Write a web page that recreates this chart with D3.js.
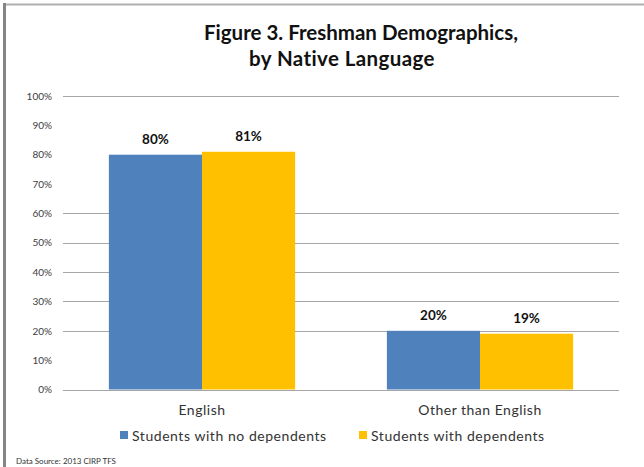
<!DOCTYPE html>
<html>
<head>
<meta charset="utf-8">
<script src="https://cdn.jsdelivr.net/npm/d3@7"></script>
<style>
  html, body { margin: 0; padding: 0; background: #fff; }
  svg { display: block; }
</style>
</head>
<body>
<svg id="chart" width="644" height="467"></svg>
<script>
// Chart data
const categories = ["English", "Other than English"];
const seriesNames = ["Students with no dependents", "Students with dependents"];
const noDependents = [80, 20];
const withDependents = [81, 19];
const tickValues = [0, 10, 20, 30, 40, 50, 60, 70, 80, 90, 100];
const tickLabels = ["0%", "10%", "20%", "30%", "40%", "50%", "60%", "70%", "80%", "90%", "100%"];
const gridValues = [0, 20, 30, 40, 50, 60, 100];
const colors = ["#4F81BD", "#FFC000"];

const seriesValues = [noDependents, withDependents];

const svg = d3.select("#chart");
const font = "Lato, 'Open Sans', sans-serif";

// Frame
svg.append("line").attr("x1", 3).attr("x2", 644).attr("y1", 4.5).attr("y2", 4.5)
  .attr("stroke", "#b0b0b0").attr("stroke-width", 2);
svg.append("line").attr("x1", 4.5).attr("x2", 4.5).attr("y1", 3).attr("y2", 467)
  .attr("stroke", "#858585").attr("stroke-width", 3);

// Title
const title = svg.append("text").attr("text-anchor", "middle")
  .attr("font-family", font).attr("font-weight", "bold").attr("font-size", 20.5).attr("fill", "#111");
title.append("tspan").attr("x", 361).attr("y", 40).text("Figure 3. Freshman Demographics,");
title.append("tspan").attr("x", 342).attr("y", 66).attr("letter-spacing", 0.4).text("by Native Language");

// Scales
const x = d3.scaleBand().domain(categories).range([63, 619]).paddingInner(0.33).paddingOuter(0.165);
const y = d3.scaleLinear().domain([0, 100]).range([389.5, 96]);
const xs = d3.scaleBand().domain(seriesNames).range([0, x.bandwidth()]);

// Gridlines
svg.append("g").selectAll("line").data(gridValues).join("line")
  .attr("x1", 63).attr("x2", 619)
  .attr("y1", d => Math.round(y(d)) + 0.5).attr("y2", d => Math.round(y(d)) + 0.5)
  .attr("stroke", "#a6a6a6").attr("stroke-width", 1.2);

// Y axis labels
const yAxis = d3.axisLeft(y).tickValues(tickValues)
  .tickFormat((d, i) => tickLabels[i]).tickSize(0).tickPadding(0);
const yg = svg.append("g").attr("transform", "translate(52,0)").call(yAxis);
yg.select(".domain").remove();
yg.selectAll("text").attr("font-family", font).attr("font-size", 10).attr("fill", "#404040");

// Bars
const groups = svg.append("g").selectAll("g").data(categories).join("g")
  .attr("transform", d => `translate(${x(d)},0)`);

groups.selectAll("rect")
  .data((c, ci) => seriesNames.map((s, si) => ({ s, si, v: seriesValues[si][ci] })))
  .join("rect")
  .attr("x", d => xs(d.s))
  .attr("width", xs.bandwidth())
  .attr("y", d => y(d.v))
  .attr("height", d => y(0) - y(d.v))
  .attr("fill", d => colors[d.si]);

// Value labels
groups.selectAll("text.val")
  .data((c, ci) => seriesNames.map((s, si) => ({ s, si, v: seriesValues[si][ci] })))
  .join("text").attr("class", "val")
  .attr("x", d => xs(d.s) + xs.bandwidth() / 2)
  .attr("y", d => y(d.v) - 11)
  .attr("text-anchor", "middle")
  .attr("font-family", font).attr("font-weight", "bold").attr("font-size", 13.5).attr("fill", "#111")
  .text(d => d.v + "%");

// Category labels
const xAxis = d3.axisBottom(x).tickSize(0).tickPadding(0);
const xg = svg.append("g").attr("transform", "translate(0,405)").call(xAxis);
xg.select(".domain").remove();
xg.selectAll("text").attr("font-family", font).attr("font-size", 14)
  .attr("letter-spacing", 0.5).attr("fill", "#333");

// Legend
const legendX = [120, 359];
const legend = svg.append("g").selectAll("g").data(seriesNames).join("g")
  .attr("transform", (d, i) => `translate(${legendX[i]},431)`);
legend.append("rect").attr("width", 8).attr("height", 8).attr("fill", (d, i) => colors[i]);
legend.append("text").attr("x", 12).attr("y", 9.5)
  .attr("font-family", font).attr("font-size", 14).attr("letter-spacing", 0.55)
  .attr("fill", "#333").text(d => d);

// Source note
svg.append("text").attr("x", 16).attr("y", 464)
  .attr("font-family", font).attr("font-size", 8).attr("fill", "#333")
  .text("Data Source: 2013 CIRP TFS");
</script>
</body>
</html>
